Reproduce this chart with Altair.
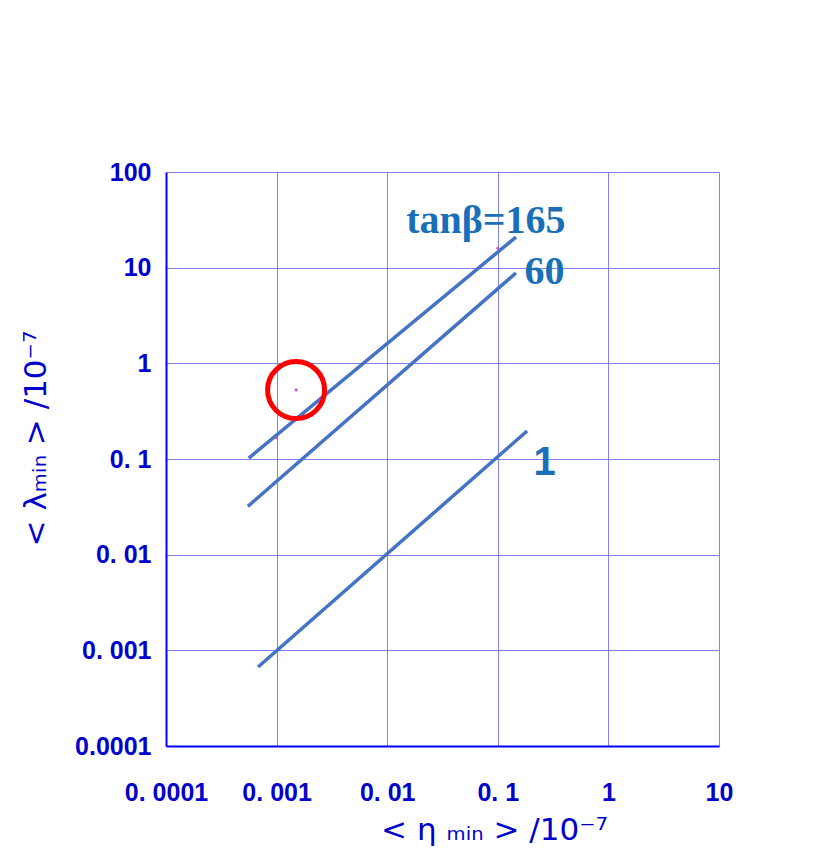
import math
import altair as alt
import pandas as pd

# tick values and labels
x_ticks = [0.0001, 0.001, 0.01, 0.1, 1, 10]
x_tick_labels = ["0. 0001", "0. 001", "0. 01", "0. 1", "1", "10"]
y_ticks = [0.0001, 0.001, 0.01, 0.1, 1, 10, 100]
y_tick_labels = ["0.0001", "0. 001", "0. 01", "0. 1", "1", "10", "100"]

# lines (tanβ series): start and end points
series = ["165", "165", "60", "60", "1", "1"]
eta = [0.00056, 0.146, 0.00055, 0.146, 0.00068, 0.184]
lam = [0.102, 20.9, 0.032, 8.8, 0.00067, 0.196]

# annotations
serif_text = ["tanβ=165", "60"]
serif_x = [0.078, 0.265]
serif_y = [31.0, 9.0]
sans_text = ["1"]
sans_x = [0.265]
sans_y = [0.0905]

# highlighted point
circle_x = [0.0015]
circle_y = [0.526]
dots_x = [0.0015, 0.001, 0.1]
dots_y = [0.526, 0.166, 16.0]

lines_df = pd.DataFrame({"series": series, "eta": eta, "lam": lam})
serif_df = pd.DataFrame({"text": serif_text, "eta": serif_x, "lam": serif_y})
sans_df = pd.DataFrame({"text": sans_text, "eta": sans_x, "lam": sans_y})
circle_df = pd.DataFrame({"eta": circle_x, "lam": circle_y})
dots_df = pd.DataFrame({"eta": dots_x, "lam": dots_y})


def label_expr(vals, labs):
    parts = " : ".join(
        f"abs(log(datum.value)/LN10 - ({round(math.log10(v))})) < 0.01 ? '{l}'"
        for v, l in zip(vals, labs)
    )
    return parts + " : ''"


xscale = alt.Scale(type="log", domain=[0.0001, 10], nice=False)
yscale = alt.Scale(type="log", domain=[0.0001, 100], nice=False)

x_enc = alt.X(
    "eta:Q", scale=xscale,
    axis=alt.Axis(
        values=x_ticks, labelExpr=label_expr(x_ticks, x_tick_labels),
        title="< η ₘᵢₙ >  /10⁻⁷", titleX=328, titleY=84, titleBaseline="middle",
        titleAlign="center",
        labelPadding=34, labelFontSize=25, labelFont="Liberation Sans", labelFontWeight="bold",
        labelColor="#0000cc", titleColor="#0000cc", titleFontSize=31,
        titleFont="DejaVu Sans", titleFontWeight="normal",
        grid=True, gridColor="#8080ff", gridWidth=1, ticks=False,
        domainColor="#0000ff", domainWidth=2, labelOverlap=False, labelFlush=False,
    ),
)
y_enc = alt.Y(
    "lam:Q", scale=yscale,
    axis=alt.Axis(
        values=y_ticks, labelExpr=label_expr(y_ticks, y_tick_labels),
        title="< λₘᵢₙ >  /10⁻⁷", titleX=-130, titleY=266, titleBaseline="middle",
        titleAngle=-90, titleAlign="center",
        labelPadding=15, labelFontSize=25, labelFont="Liberation Sans", labelFontWeight="bold",
        labelColor="#0000cc", titleColor="#0000cc", titleFontSize=31,
        titleFont="DejaVu Sans", titleFontWeight="normal",
        grid=True, gridColor="#8080ff", gridWidth=1, ticks=False,
        domainColor="#0000ff", domainWidth=2, labelOverlap=False, labelFlush=False,
    ),
)

lines = alt.Chart(lines_df).mark_line(color="#4472c4", strokeWidth=3.5).encode(
    x=x_enc, y=y_enc, detail="series:N"
)

serif_labels = alt.Chart(serif_df).mark_text(
    fontSize=40, fontWeight="bold", font="Liberation Serif", color="#1a70b8",
    align="center", baseline="middle"
).encode(x=alt.X("eta:Q", scale=xscale), y=alt.Y("lam:Q", scale=yscale), text="text:N")

sans_labels = alt.Chart(sans_df).mark_text(
    fontSize=40, fontWeight="bold", font="Liberation Sans", color="#1a70b8",
    align="center", baseline="middle"
).encode(x=alt.X("eta:Q", scale=xscale), y=alt.Y("lam:Q", scale=yscale), text="text:N")

circle = alt.Chart(circle_df).mark_point(
    shape="circle", size=3249, stroke="#ff0000", strokeWidth=5, filled=False, opacity=1
).encode(x=alt.X("eta:Q", scale=xscale), y=alt.Y("lam:Q", scale=yscale))

dots = alt.Chart(dots_df).mark_point(
    shape="circle", size=8, filled=True, color="#cc44cc", opacity=1
).encode(x=alt.X("eta:Q", scale=xscale), y=alt.Y("lam:Q", scale=yscale))

chart = alt.layer(lines, circle, dots, serif_labels, sans_labels).properties(
    width=553, height=574,
    autosize=alt.AutoSizeParams(type="none"),
    padding={"left": 158, "top": 164, "right": 50, "bottom": 110},
).configure_view(stroke="#0000ff", strokeWidth=2).configure(background="white")

chart.save("out.html", embed_options={"renderer": "svg", "actions": False})
